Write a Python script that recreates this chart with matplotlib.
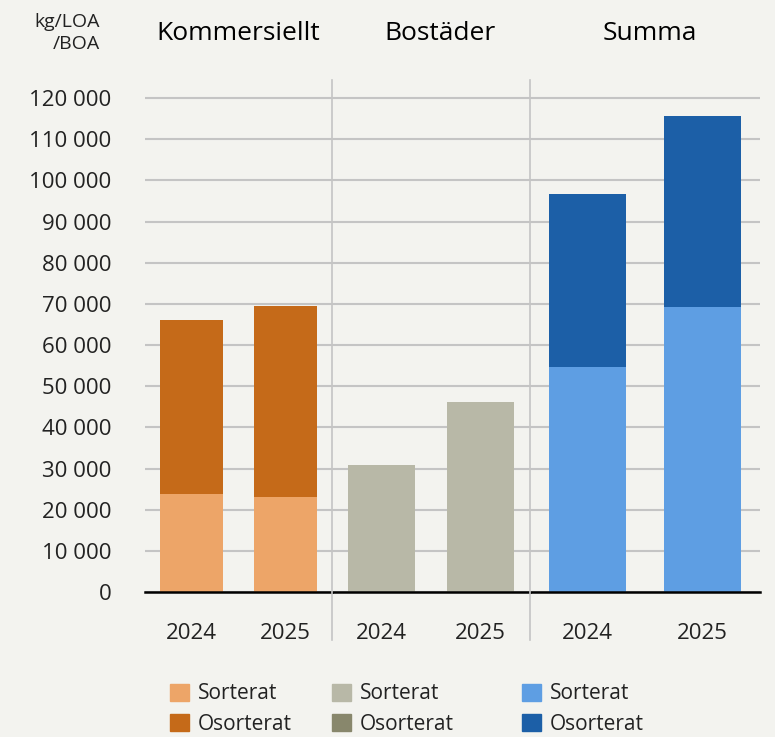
import matplotlib.pyplot as plt
from matplotlib.lines import Line2D
from matplotlib.patches import Patch
from matplotlib.ticker import FuncFormatter
from matplotlib import font_manager

# Data (kg per LOA/BOA)
years = ['2024', '2025']
groups = ['Kommersiellt', 'Bostäder', 'Summa']
sorterat = {
    'Kommersiellt': [23800, 23100],
    'Bostäder': [30800, 46200],
    'Summa': [54600, 69300],
}
osorterat = {
    'Kommersiellt': [42200, 46400],
    'Bostäder': [0, 0],
    'Summa': [42200, 46400],
}
colors = {
    'Kommersiellt': ('#EDA568', '#C56A19'),
    'Bostäder': ('#B8B8A7', '#88876C'),
    'Summa': ('#5E9EE3', '#1C5FA7'),
}

names = {f.name for f in font_manager.fontManager.ttflist}
fam = 'Liberation Sans Narrow' if 'Liberation Sans Narrow' in names else 'Open Sans'
plt.rcParams['font.family'] = [fam, 'DejaVu Sans']
bg = '#F3F3EF'

fig = plt.figure(figsize=(7.75, 7.37), dpi=100, facecolor=bg)
W, H = 775, 737
left, right, bottom, top = 145 / W, 760 / W, 1 - 592 / H, 1 - 80 / H
gs = fig.add_gridspec(1, 3, width_ratios=[187, 198, 230], wspace=0,
                      left=left, right=right, bottom=bottom, top=top)

axes = []
for i, g in enumerate(groups):
    ax = fig.add_subplot(gs[0, i])
    ax.set_facecolor(bg)
    x = range(len(years))
    c1, c2 = colors[g]
    ax.bar(x, sorterat[g], width=0.67, color=c1, zorder=2)
    ax.bar(x, osorterat[g], bottom=sorterat[g], width=0.67, color=c2, zorder=2)
    ax.set_xlim(-0.5, 1.5)
    ax.set_ylim(0, 124400)
    ax.set_yticks(range(0, 120001, 10000))
    ax.grid(axis='y', color='#C4C4C4', lw=1.5, zorder=0)
    ax.axhline(0, color='black', lw=1.8, zorder=3, clip_on=False)
    for s in ax.spines.values():
        s.set_visible(False)
    ax.set_xticks(list(x))
    ax.set_xticklabels(years, fontsize=16, color='#222222')
    ax.tick_params(axis='x', length=0, pad=22)
    if i == 0:
        ax.yaxis.set_major_formatter(FuncFormatter(lambda v, p: f'{int(v):,}'.replace(',', ' ')))
        ax.tick_params(axis='y', length=0, pad=24, labelsize=16, labelcolor='#222222')
    else:
        ax.tick_params(axis='y', length=0, labelleft=False)
    axes.append(ax)

# Group separators
for xp in (332, 530):
    fig.add_artist(Line2D([xp / W, xp / W], [1 - 80 / H, 1 - 640 / H],
                          transform=fig.transFigure, color='#C4C4C4', lw=1.2))

# Titles
for g, xc in zip(groups, (238, 440, 650)):
    fig.text(xc / W, 1 - 33 / H, g, ha='center', va='center', fontsize=19, color='black')
fig.text(100 / W, 1 - 33 / H, 'kg/LOA\n/BOA', ha='right', va='center', fontsize=14,
         color='#222222', linespacing=1.3)

# Legends
for g, xl in zip(groups, (160, 322, 512)):
    c1, c2 = colors[g]
    handles = [Patch(color=c1, label='Sorterat'), Patch(color=c2, label='Osorterat')]
    fig.legend(handles=handles, loc='upper left', bbox_to_anchor=(xl / W, 1 - 673 / H),
               frameon=False, fontsize=15, handlelength=0.9, handleheight=0.9,
               handletextpad=0.4, labelspacing=0.45, borderpad=0, labelcolor='#222222')

fig.savefig('out.png', dpi=100, facecolor=bg)
